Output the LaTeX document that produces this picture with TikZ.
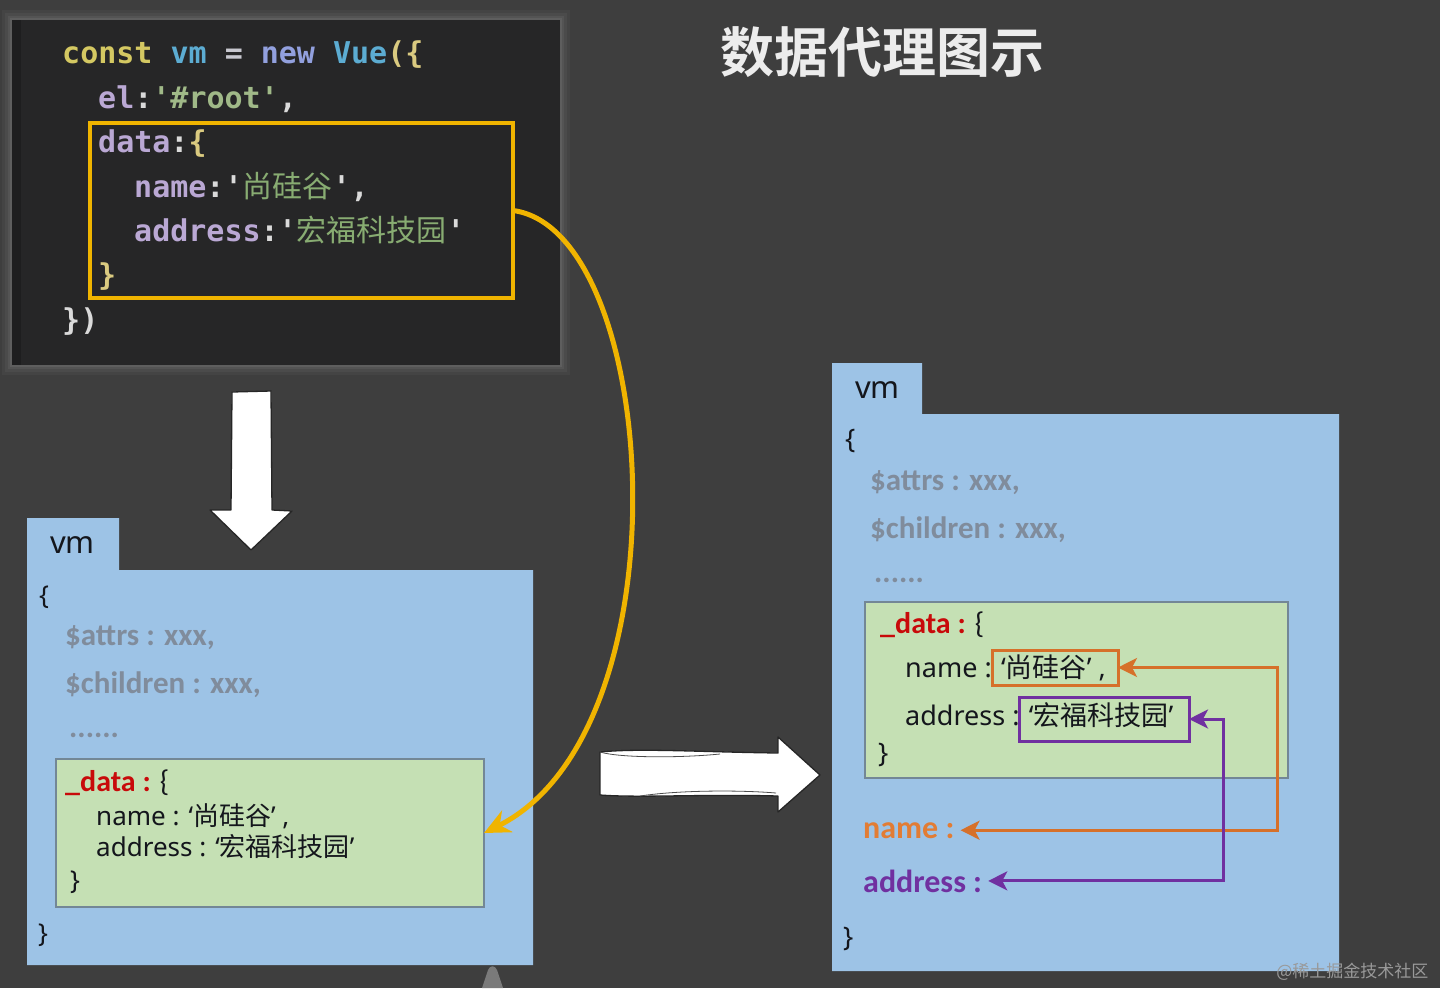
\documentclass[tikz,border=0pt]{standalone}
\usepackage{fontspec}
\usetikzlibrary{arrows.meta}
\setmainfont{Noto Sans}
\newfontfamily\cjk{Noto Sans CJK SC}[BoldFont={Noto Sans CJK SC Bold}]
\newfontfamily\codefont{DejaVu Sans Mono}
\newfontfamily\calib{Carlito}
\definecolor{bgcol}{RGB}{62,62,62}
\definecolor{panelc}{RGB}{38,38,39}
\definecolor{yel}{RGB}{240,180,0}
\definecolor{kw}{RGB}{212,200,98}
\definecolor{vmc}{RGB}{92,172,210}
\definecolor{opc}{RGB}{200,200,208}
\definecolor{nw}{RGB}{146,160,222}
\definecolor{brc}{RGB}{218,202,128}
\definecolor{prop}{RGB}{186,168,212}
\definecolor{strc}{RGB}{160,185,136}
\definecolor{cjkc}{RGB}{136,172,114}
\definecolor{whc}{RGB}{218,218,218}
\definecolor{bluebox}{RGB}{157,195,230}
\definecolor{greenbox}{RGB}{197,224,180}
\definecolor{greenline}{RGB}{115,135,150}
\definecolor{greyt}{RGB}{128,140,156}
\definecolor{darkt}{RGB}{20,22,28}
\definecolor{redc}{RGB}{200,10,10}
\definecolor{orc}{RGB}{214,112,42}
\definecolor{orct}{RGB}{226,124,52}
\definecolor{purc}{RGB}{112,48,160}
\definecolor{titlec}{RGB}{236,236,236}
\tikzset{
  lab/.style={anchor=base west, inner sep=0pt},
  code/.style={lab, font=\codefont\bfseries\fontsize{30}{30}\selectfont},
  grey/.style={lab, text=greyt, font=\calib\bfseries\fontsize{31}{31}\selectfont},
  txtl/.style={lab, text=darkt, font=\fontsize{26}{26}\selectfont},
  txtr/.style={lab, text=darkt, font=\fontsize{27}{27}\selectfont},
  datal/.style={lab, font=\calib\bfseries\fontsize{30}{30}\selectfont},
  blockarrow/.style={fill=white, draw=black!85, line width=1.3pt, line join=round},
  boxnode/.style={anchor=north west, inner sep=0pt, outer sep=0pt},
  mytip/.tip={Stealth[length=19pt,width=19pt,inset=5pt]},
}
\begin{document}
\begin{tikzpicture}[x=1pt,y=-1pt]
\fill[bgcol] (0,0) rectangle (1440,988);
\useasboundingbox (0,0) rectangle (1440,988);

% title
\node[anchor=center, text=titlec, font=\cjk\bfseries\fontsize{54}{54}\selectfont] (title) at (882,52) {数据代理图示};

% code panel with soft halo
\foreach \d/\o in {10/0.03,7/0.04,4/0.05,2/0.06}{
  \fill[white, opacity=\o] (12-\d,20-\d) rectangle (560+\d,365+\d);
}
\node[boxnode, fill=panelc, minimum width=548pt, minimum height=345pt] (panel) at (12,20) {};
\fill[black!20!panelc] (12,20) rectangle (21,365);
\node[code] (c1) at (62,63) {\textcolor{kw}{const} \textcolor{vmc}{vm} \textcolor{opc}{=} \textcolor{nw}{new} \textcolor{vmc}{Vue}\textcolor{brc}{(\{}};
\node[code] (c2) at (98,108) {\textcolor{prop}{el}\textcolor{whc}{:}\textcolor{strc}{'\#root'}\textcolor{whc}{,}};
\node[code] (c3) at (98,152) {\textcolor{prop}{data}\textcolor{whc}{:}\textcolor{brc}{\{}};
\node[code] (c4) at (134,197) {\textcolor{prop}{name}\textcolor{whc}{:}\textcolor{whc}{'}{\cjk\mdseries\color{cjkc}尚硅谷}\textcolor{whc}{',}};
\node[code] (c5) at (134,241) {\textcolor{prop}{address}\textcolor{whc}{:}\textcolor{whc}{'}{\cjk\mdseries\color{cjkc}宏福科技园}\textcolor{whc}{'}};
\node[code] (c6) at (98,285) {\textcolor{brc}{\}}};
\node[code] (c7) at (62,330) {\textcolor{whc}{\})}};
\node[boxnode, draw=yel, line width=3.5pt, minimum width=423pt, minimum height=175pt] (ydata) at (90,123) {};

% down block arrow
\path[blockarrow] (232,392) -- (271,391) -- (272,510) -- (292,511) -- (251,550) -- (210,510) -- (231,510) -- cycle;

% right block arrow
\path[blockarrow] (600,752) .. controls (640,748) and (700,752) .. (778,753) -- (778,737) -- (820,775) -- (778,812) -- (778,796) .. controls (700,794) and (640,798) .. (600,795) -- cycle;
\draw[black!70, line width=0.8pt] (600,752) .. controls (620,758) and (680,758) .. (720,754);
\draw[black!70, line width=0.8pt] (640,796) .. controls (680,790) and (740,790) .. (776,793);

% ---------- left vm box ----------
\fill[bluebox] (27,518) -- (119,518) -- (119,570) -- (533,570) -- (533,965) -- (27,965) -- cycle;
\node[lab, text=darkt, font=\fontsize{31}{31}\selectfont] (lvm) at (50,553) {vm};
\node[txtl] (lob) at (39,604) {\{};
\node[grey] (lattrs) at (65,645) {\$attrs : xxx,};
\node[grey] (lchild) at (65,693) {\$children : xxx,};
\node[grey] (ldots) at (69,737) {......};
\node[boxnode, fill=greenbox, draw=greenline, line width=1.2pt, minimum width=428pt, minimum height=148pt] (ldata) at (56,759) {};
\node[datal] (ldk) at (65,791) {\textcolor{redc}{\_data :} {\mdseries\textcolor{darkt}{\{}}};
\node[txtl] (lname) at (96,825) {name : ‘{\cjk 尚硅谷}’ ,};
\node[txtl] (laddr) at (96,856) {address : ‘{\cjk 宏福科技园}’};
\node[txtl] (lcb) at (70,889) {\}};
\node[txtl] (lcb2) at (38,942) {\}};

% yellow curved arrow
\draw[yel, line width=5pt, -{Stealth[length=26pt,width=24pt]}] (ydata.east) .. controls (660,230) and (690,730) .. (ldata.east);

% ---------- right vm box ----------
\fill[bluebox] (832,363) -- (922,363) -- (922,414) -- (1339,414) -- (1339,971) -- (832,971) -- cycle;
\node[lab, text=darkt, font=\fontsize{31}{31}\selectfont] (rvm) at (855,398) {vm};
\node[txtr] (rob) at (845,448) {\{};
\node[grey] (rattrs) at (870,490) {\$attrs : xxx,};
\node[grey] (rchild) at (870,538) {\$children : xxx,};
\node[grey] (rdots) at (874,582) {......};
\node[boxnode, fill=greenbox, draw=greenline, line width=1.2pt, minimum width=423pt, minimum height=176pt] (rdata) at (865,602) {};
\node[datal] (rdk) at (880,633) {\textcolor{redc}{\_data :} {\mdseries\textcolor{darkt}{\{}}};
\node[txtr] (rname) at (905,677) {name : ‘{\cjk 尚硅谷}’ ,};
\node[txtr] (raddr) at (905,725) {address : ‘{\cjk 宏福科技园}’};
\node[txtr] (rcb) at (878,762) {\}};
\node[boxnode, draw=orc, line width=3pt, minimum width=126pt, minimum height=35pt] (obox) at (992,650) {};
\node[boxnode, draw=purc, line width=3pt, minimum width=170pt, minimum height=44pt] (pbox) at (1019,697) {};
\node[lab, text=orct, font=\calib\bfseries\fontsize{32}{32}\selectfont, inner xsep=6pt] (oname) at (857,838) {name :};
\node[lab, text=purc, font=\calib\bfseries\fontsize{32}{32}\selectfont, inner xsep=6pt] (paddr) at (857,892) {address :};
\node[txtr] (rcb2) at (843,946) {\}};

\draw[orc, line width=3pt, mytip-mytip, line join=miter] (obox.east) -- ++(159,0) |- (oname.east);
\draw[purc, line width=3pt, mytip-mytip, line join=miter] (pbox.east) -- ++(34,0) |- (paddr.east);

% bottom marker and watermark
\fill[black!45!bgcol!60!white] (482,988) -- (488,970) .. controls (490,965) and (495,965) .. (497,970) -- (503,988) -- cycle;
\node[anchor=base east, text=black!40!white, font=\cjk\fontsize{17}{17}\selectfont] (wm) at (1432,977) {@稀土掘金技术社区};
\end{tikzpicture}
\end{document}
